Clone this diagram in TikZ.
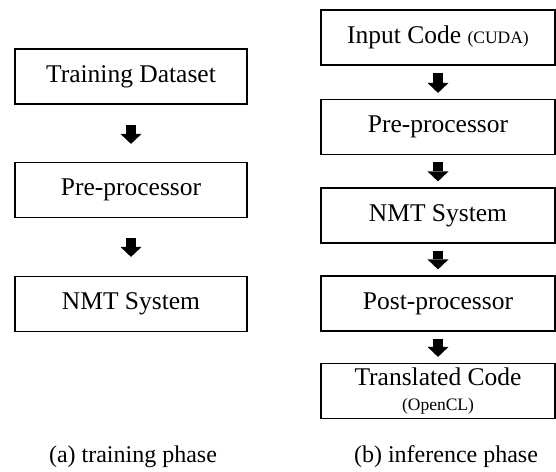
\documentclass[tikz,border=0pt]{standalone}
\usepackage{fontspec}
\setmainfont{Liberation Serif}
\usetikzlibrary{arrows.meta}

\newcommand{\subtext}{\fontsize{17.5}{19}\selectfont}

\begin{document}
\begin{tikzpicture}[
    x=1pt, y=-1pt,
    block/.style={
        draw=black,
        line width=1.2pt,
        fill=white,
        inner sep=0pt,
        minimum height=55pt,
        align=center,
        font=\fontsize{25.5}{27}\selectfont
    },
    leftblock/.style={block, minimum width=232pt},
    rightblock/.style={block, minimum width=234pt},
    every edge/.style={draw=black, line width=10pt,
        -{Triangle[width=21pt, length=10pt, line width=0pt]}},
    phase/.style={font=\fontsize{24}{26}\selectfont, anchor=base}
]
\useasboundingbox (0,0) rectangle (556,471);

\node[leftblock] (TD) at (131, 76.5) {Training Dataset};
\node[leftblock] (TPre) at (131, 190) {Pre-processor};
\node[leftblock] (TNMT) at (131, 304) {NMT System};

\node[rightblock] (IIn) at (438, 37.5) {Input Code {\subtext(CUDA)}};
\node[rightblock] (IPre) at (438, 127) {Pre-processor};
\node[rightblock] (INMT) at (438, 215.5) {NMT System};
\node[rightblock] (IPost) at (438, 303.5) {Post-processor};
\node[rightblock] (IOut) at (438, 391) {Translated Code\\[-2pt]\subtext(OpenCL)};

\path (TD) edge[shorten <=20pt, shorten >=18pt] (TPre);
\path (TPre) edge[shorten <=20pt, shorten >=19pt] (TNMT);
\path (IIn) edge[shorten <=7pt, shorten >=6pt] (IPre);
\path (IPre) edge[shorten <=7pt, shorten >=6pt] (INMT);
\path (INMT) edge[shorten <=7pt, shorten >=6pt] (IPost);
\path (IPost) edge[shorten <=7pt, shorten >=6pt] (IOut);

\node[phase] (capA) at (133, 462) {(a) training phase};
\node[phase] (capB) at (446, 462) {(b) inference phase};
\end{tikzpicture}
\end{document}
